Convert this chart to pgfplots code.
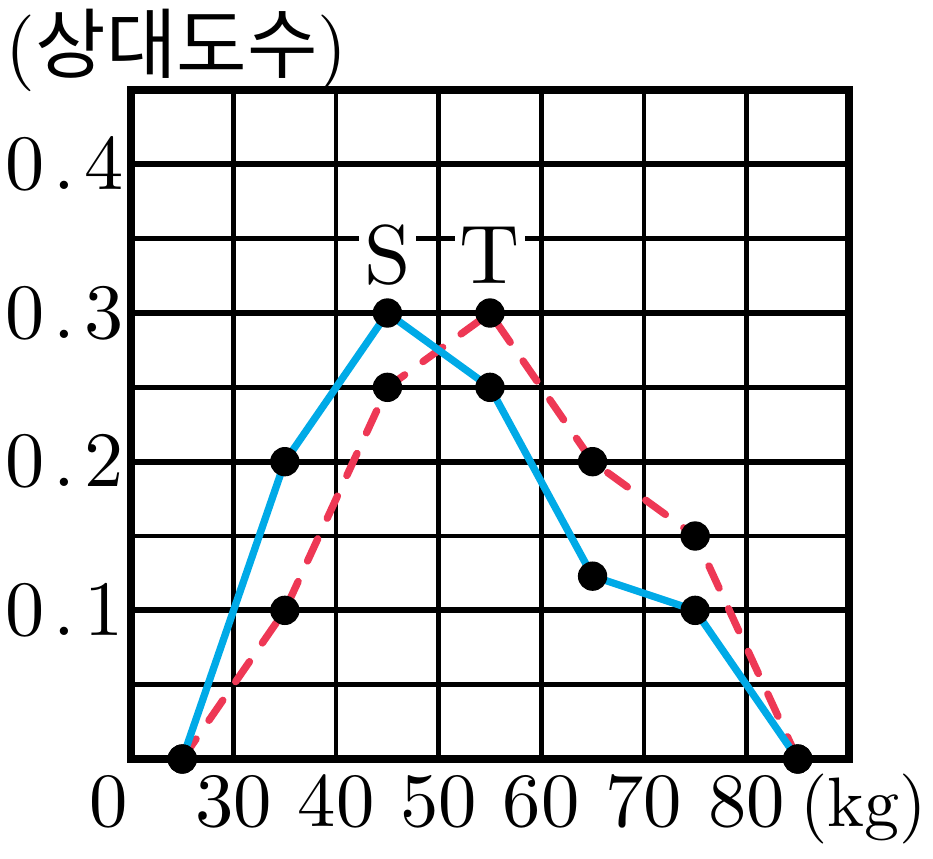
\documentclass[border=0pt]{standalone}
\usepackage{fontspec}
\setmainfont{lmroman10-regular.otf}
\newfontfamily\cjk{Noto Sans CJK KR}
\usepackage{pgfplots}
\pgfplotsset{compat=1.18}
\definecolor{sblue}{HTML}{00AAE7}
\definecolor{tred}{HTML}{EE3855}
\begin{document}
\begin{tikzpicture}
\useasboundingbox (-39.3pt,-29.7pt) rectangle (240.6pt,227.7pt);
\begin{axis}[
 scale only axis, width=215.4pt, height=200.7pt,
 xmin=20, xmax=90, ymin=0, ymax=0.45,
 xtick={30,40,50,60,70,80}, xticklabels={30,40,50,60,70,80},
 ytick={0.1,0.2,0.3,0.4},
 yticklabels={0\hspace{2.6pt}.\hspace{2.6pt}1,0\hspace{2.6pt}.\hspace{2.6pt}2,0\hspace{2.6pt}.\hspace{2.6pt}3,0\hspace{2.6pt}.\hspace{2.6pt}4},
 minor ytick={0.05,0.15,0.25,0.35},
 grid=both,
 major x grid style={line width=1.35pt, black},
 major y grid style={line width=1.8pt, black},
 minor y grid style={line width=1.35pt, black},
 major tick length=0pt, minor tick length=0pt,
 axis line style={line width=2.2pt},
 xticklabel style={font=\fontsize{23}{23}\selectfont, anchor=base, yshift=-20.1pt, inner sep=0pt},
 yticklabel style={font=\fontsize{23.5}{23.5}\selectfont, anchor=east, xshift=-2.1pt, inner sep=0pt},
 clip=false,
]
\addplot[tred, line width=2.2pt, dash pattern=on 7.3pt off 6.8pt, line cap=round] coordinates {(25,0) (35,0.1) (45,0.25) (55,0.3) (65,0.2) (75,0.15) (85,0)};
\addplot[sblue, line width=2.2pt, line join=round] coordinates {(25,0) (35,0.2) (45,0.3) (55,0.25) (65,0.123) (75,0.1) (85,0)};
\addplot[only marks, mark=*, mark size=4.2pt, black] coordinates {(25,0) (35,0.1) (45,0.25) (55,0.3) (65,0.2) (75,0.15) (85,0)};
\addplot[only marks, mark=*, mark size=4.2pt, black] coordinates {(25,0) (35,0.2) (45,0.3) (55,0.25) (65,0.123) (75,0.1) (85,0)};
\node[fill=white, inner sep=1.5pt, font=\fontsize{25}{25}\selectfont] at (axis cs:45,0.339) {S};
\node[fill=white, inner sep=1.5pt, font=\fontsize{25}{25}\selectfont] at (axis cs:55,0.339) {T};
\node[anchor=base, inner sep=0pt, font=\fontsize{23}{23}\selectfont] at (axis cs:17.85,-0.0451) {0};
\node[anchor=base west, inner sep=0pt, font=\fontsize{21}{21}\selectfont] at (axis cs:85.2,-0.0451) {(kg)};
\end{axis}
\node[anchor=north west, inner sep=0pt, font=\fontsize{23}{23}\selectfont] at (-37.8pt,225.3pt) {({\cjk 상대도수})};
\end{tikzpicture}
\end{document}
